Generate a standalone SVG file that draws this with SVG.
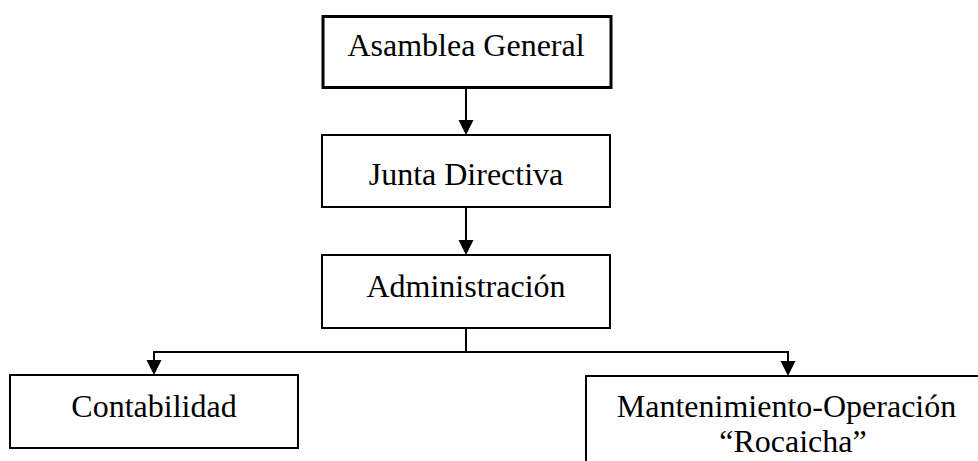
<svg xmlns="http://www.w3.org/2000/svg" width="978" height="461" viewBox="0 0 978 461">
<style>
.box{fill:#fff;stroke:#000;stroke-width:2}
.thick{stroke-width:3}
.lbl{font-family:"Liberation Serif","Times New Roman",serif;font-size:32px;fill:#000;text-anchor:middle}
.conn{fill:none;stroke:#000;stroke-width:2}
.head{fill:#000}
</style>
<defs>
<path id="ah" class="head" d="M-7.5,-15 L7.5,-15 L0,0 Z"/>
</defs>
<rect width="978" height="461" fill="#fff"/>
<g id="connectors">
<line class="conn" x1="466" y1="88" x2="466" y2="121"/>
<use href="#ah" x="466" y="135"/>
<line class="conn" x1="466" y1="207" x2="466" y2="241"/>
<use href="#ah" x="466" y="255"/>
<polyline class="conn" points="466,328 466,352 154,352 154,361"/>
<use href="#ah" x="154" y="375"/>
<polyline class="conn" points="466,352 788,352 788,362"/>
<use href="#ah" x="788" y="376"/>
</g>
<g id="asamblea">
<rect class="box thick" x="323" y="16.5" width="288" height="71"/>
<text class="lbl" x="466" y="56">Asamblea General</text>
</g>
<g id="junta">
<rect class="box" x="322" y="135" width="288" height="72"/>
<text class="lbl" x="466" y="185">Junta Directiva</text>
</g>
<g id="administracion">
<rect class="box" x="322" y="255" width="288" height="73"/>
<text class="lbl" x="466" y="297">Administración</text>
</g>
<g id="contabilidad">
<rect class="box" x="10" y="375" width="288" height="73"/>
<text class="lbl" x="154" y="417">Contabilidad</text>
</g>
<g id="mantenimiento">
<rect class="box" x="586" y="376" width="440" height="100"/>
<text class="lbl" x="786.5" y="417">Mantenimiento-Operación</text>
<text class="lbl" x="793" y="452">“Rocaicha”</text>
</g>
</svg>
